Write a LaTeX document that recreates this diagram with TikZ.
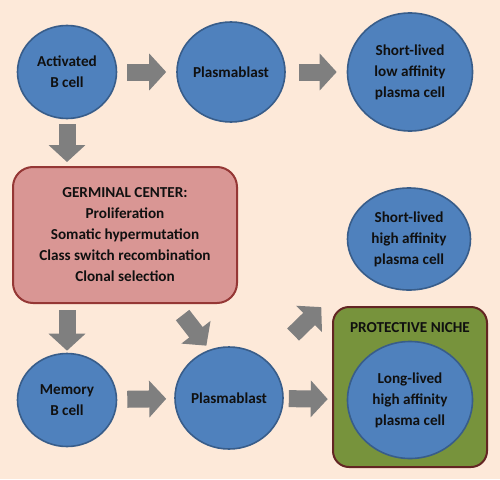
\documentclass[tikz,border=0pt]{standalone}
\usepackage{fontspec}
\setmainfont{Carlito}
\usetikzlibrary{shapes.geometric,arrows.meta}
\definecolor{bgpeach}{HTML}{FDE9D9}
\definecolor{cellblue}{HTML}{4F81BD}
\definecolor{cellborder}{HTML}{385D8A}
\definecolor{gcpink}{HTML}{D99694}
\definecolor{gcborder}{HTML}{953735}
\definecolor{nichegreen}{HTML}{77933C}
\definecolor{nicheborder}{HTML}{632523}
\definecolor{arrowgray}{HTML}{7F7F7F}
\definecolor{textdark}{HTML}{101010}
\begin{document}
\begin{tikzpicture}[x=1pt,y=-1pt,cellnode/.style={ellipse,draw=cellborder,line width=1.6pt,fill=cellblue,align=center,inner sep=0pt,text=textdark,font=\bfseries\fontsize{15.2}{21}\selectfont}]
		\tikzstyle{boxnode}=[rectangle,line width=2pt,align=center,text=textdark,font=\bfseries\fontsize{15.2}{21}\selectfont]
		\tikzstyle{blockarrow}=[draw=arrowgray,line width=17pt,-{Triangle[width=36pt,length=17pt]}]
		\fill[bgpeach] (0,0) rectangle (500,479);
		\useasboundingbox (0,0) rectangle (500,479);
		
		\node[cellnode,minimum width=99pt,minimum height=93pt] (act) at (67,72) {Activated\\B cell};
		\node[cellnode,minimum width=108pt,minimum height=100pt] (pb1) at (231,72) {Plasmablast};
		\node[cellnode,minimum width=125pt,minimum height=118pt] (sllo) at (410,72) {Short-lived\\low affinity\\plasma cell};
		
		\node[boxnode,draw=gcborder,fill=gcpink,rounded corners=20pt,minimum width=224pt,minimum height=136pt] (gc) at (125,235) {GERMINAL CENTER:\\Proliferation\\Somatic hypermutation\\Class switch recombination\\Clonal selection};
		\node[cellnode,minimum width=123pt,minimum height=102pt] (slhi) at (409,239) {Short-lived\\high affinity\\plasma cell};
		
		\node[boxnode,draw=nicheborder,fill=nichegreen,rounded corners=16pt,minimum width=154pt,minimum height=160pt] (niche) at (410,387) {};
		\node[boxnode] (nichelbl) at ([yshift=-22pt]niche.north) {PROTECTIVE NICHE};
		\node[cellnode,minimum width=125pt,minimum height=117pt] (ll) at (410,400) {Long-lived\\high affinity\\plasma cell};
		
		\node[cellnode,minimum width=99pt,minimum height=93pt] (mem) at (67,400) {Memory\\B cell};
		\node[cellnode,minimum width=108pt,minimum height=102pt] (pb2) at (229,398) {Plasmablast};
		
		\coordinate (gcout) at (gc.south -| 174,0);
		\draw[blockarrow,shorten <=10pt,shorten >=10pt] (act) -- (pb1);
		\draw[blockarrow,shorten <=13pt,shorten >=10pt] (pb1) -- (sllo);
		\draw[blockarrow,shorten <=5pt,shorten >=4pt] (act.south) -- (act.south |- gc.north);
		\draw[blockarrow,shorten <=6pt,shorten >=2pt] (gc.south -| mem) -- (mem.north);
		\draw[blockarrow,shorten <=14pt,shorten >=5pt] (gcout) -- (pb2.112);
		\draw[blockarrow,shorten <=10pt,shorten >=8pt] (mem) -- (pb2);
		\draw[blockarrow,shorten <=5pt,shorten >=19pt] (pb2) -- (ll);
		\draw[blockarrow,shorten <=37pt,shorten >=53pt] (pb2.45) -- (slhi.212);
		
\end{tikzpicture}
\end{document}
